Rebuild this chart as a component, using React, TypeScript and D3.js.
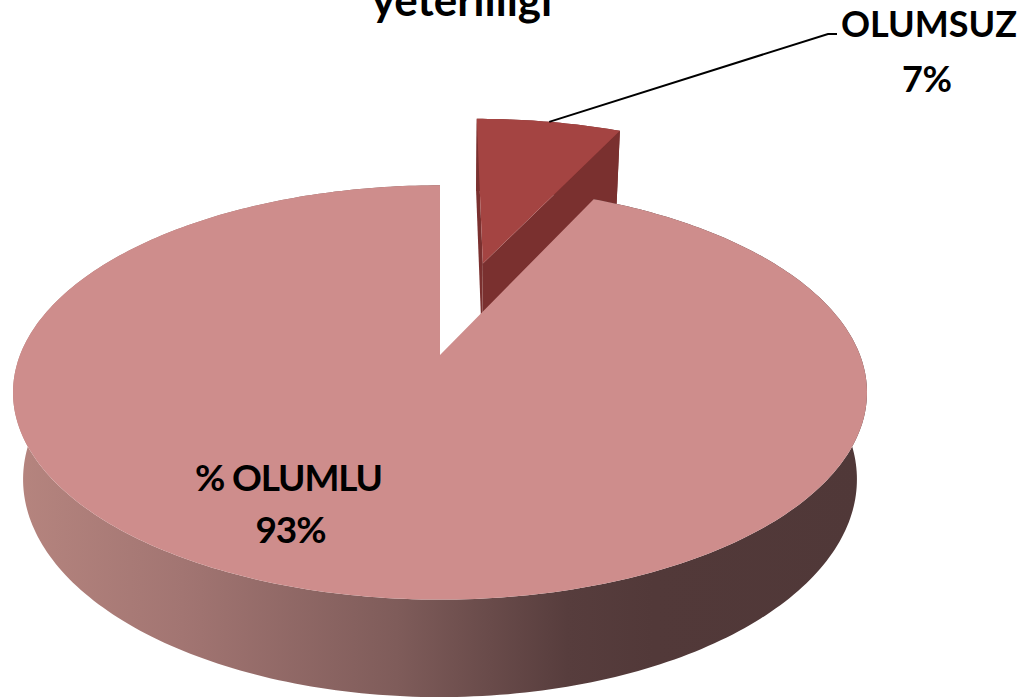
import * as d3 from "d3"

const title = "yeterliliği"
const categories = ["OLUMSUZ", "% OLUMLU"]
const values = [7, 93]
const percentLabels = ["7%", "93%"]

const W = 1024
const H = 699

// perspective camera for the 3d pie
const cx = 440
const cy = 355
const tilt = (28.5 * Math.PI) / 180
const camDist = 4.86
const focal = 2041
const depth = 0.238
const explode = [0.51, 0]

const topColors = ["#A44442", "#CE8D8C"]
const sideColors = ["#7A302F", "url(#sideGrad)"]

type P = [number, number]

const proj = (px: number, py: number, pz: number): P => {
  const s = Math.sin(tilt)
  const c = Math.cos(tilt)
  const dist = camDist - (py * c + pz * s)
  return [cx + (focal * px) / dist, cy - (focal * (pz * c - py * s)) / dist]
}

const line = d3.line<P>()

const App = () => {
  const arcs = d3.pie<number>().sort(null).startAngle(0).endAngle(Math.PI * 2)(values)

  const parts = arcs.map((a, i) => {
    const mid = (a.startAngle + a.endAngle) / 2
    const ox = explode[i] * Math.sin(mid)
    const oy = -explode[i] * Math.cos(mid)
    const pt = (phi: number, r: number, z: number) => proj(ox + r * Math.sin(phi), oy - r * Math.cos(phi), z)
    const steps = Math.max(2, Math.ceil(((a.endAngle - a.startAngle) * 180) / Math.PI))
    const angles = d3.range(steps + 1).map(k => a.startAngle + ((a.endAngle - a.startAngle) * k) / steps)
    const topArc = angles.map(p => pt(p, 1, 0))
    const botArc = angles.map(p => pt(p, 1, -depth)).reverse()
    const top = line([pt(0, 0, 0), ...topArc])! + "Z"
    const side = line([...topArc, ...botArc])! + "Z"
    const startFace = line([pt(a.startAngle, 0, 0), pt(a.startAngle, 1, 0), pt(a.startAngle, 1, -depth), pt(a.startAngle, 0, -depth)])! + "Z"
    const endFace = line([pt(a.endAngle, 0, 0), pt(a.endAngle, 1, 0), pt(a.endAngle, 1, -depth), pt(a.endAngle, 0, -depth)])! + "Z"
    const outerMid = pt(mid, 1, 0)
    return { i, top, side, startFace, endFace, outerMid }
  })

  const red = parts[0]
  const pink = parts[1]
  const leader: P[] = [red.outerMid, [828, 34], [837, 34]]

  const font = "Lato, 'Open Sans', sans-serif"

  return (
    <svg width={W} height={H} style={{ position: "absolute", left: 0, top: 0, background: "#fff" }}>
      <defs>
        <linearGradient id="sideGrad" gradientUnits="userSpaceOnUse" x1={12} x2={866} y1={0} y2={0}>
          <stop offset="0" stopColor="#B6857F" />
          <stop offset="0.2" stopColor="#A27572" />
          <stop offset="0.45" stopColor="#7F5C5A" />
          <stop offset="0.65" stopColor="#573D3D" />
          <stop offset="0.75" stopColor="#523939" />
          <stop offset="1" stopColor="#503838" />
        </linearGradient>
      </defs>

      {/* exploded slice, behind */}
      <path d={red.side} fill={sideColors[0]} />
      <path d={red.startFace} fill={sideColors[0]} />
      <path d={red.endFace} fill={sideColors[0]} />
      <path d={red.top} fill={topColors[0]} />

      {/* main slice */}
      <path d={pink.side} fill={sideColors[1]} />
      <path d={pink.top} fill={topColors[1]} />

      <path d={line(leader)!} fill="none" stroke="#000" strokeWidth={2} />

      <g fontFamily={font} fontWeight={700} fill="#000" textAnchor="middle">
        <text x={462} y={16} fontSize={44}>{title}</text>
        <text x={929} y={37} fontSize={36} textLength={176}>{categories[0]}</text>
        <text x={927} y={92} fontSize={36} textLength={50}>{percentLabels[0]}</text>
        <text x={289} y={491} fontSize={37} textLength={188}>{categories[1]}</text>
        <text x={291} y={543} fontSize={37} textLength={71}>{percentLabels[1]}</text>
      </g>
    </svg>
  )
}

export default App
